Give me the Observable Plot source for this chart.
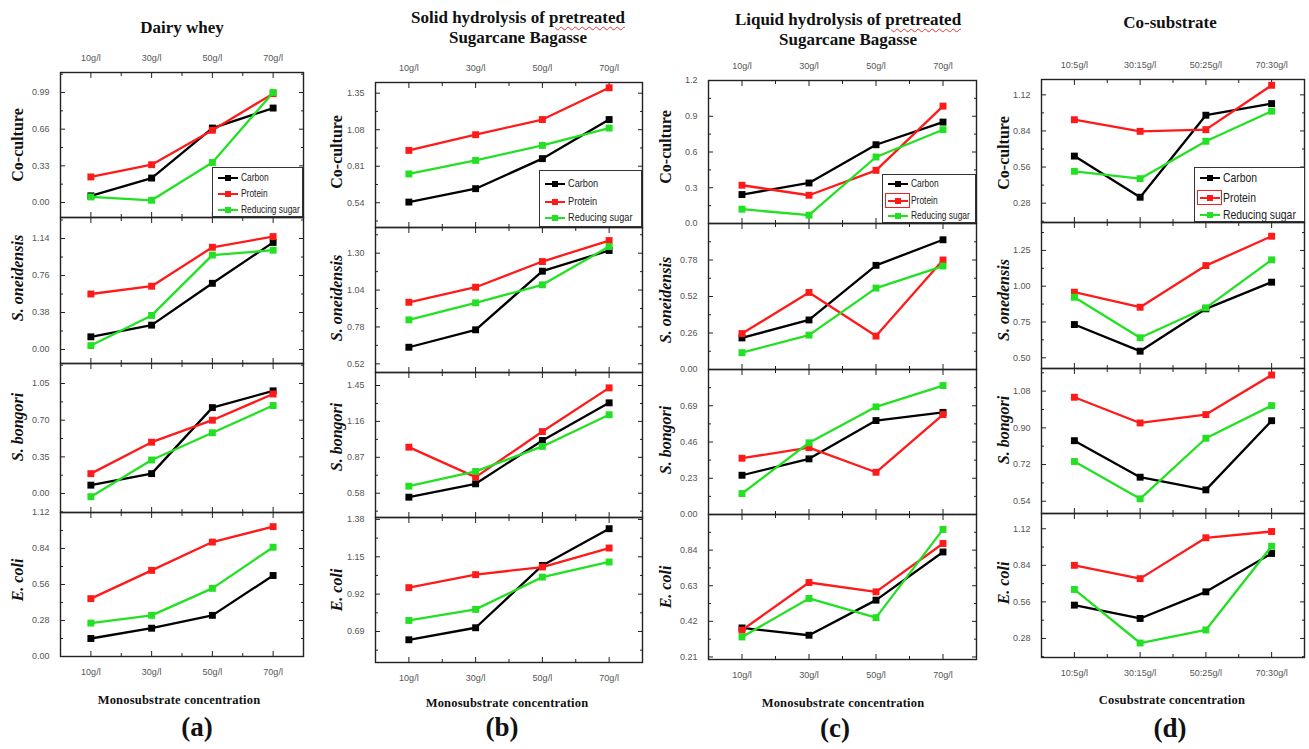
<!DOCTYPE html>
<html><head><meta charset="utf-8">
<script src="https://cdn.jsdelivr.net/npm/d3@7"></script>
<script src="https://cdn.jsdelivr.net/npm/@observablehq/plot@0.6"></script>
<style>
body{margin:0;background:#fff;}
#root{position:relative;width:1309px;height:749px;overflow:hidden;background:#fff;}
.abs{position:absolute;white-space:nowrap;}
.serif{font-family:"Liberation Serif","Times New Roman",serif;font-weight:bold;color:#111;}
.title{font-size:17px;line-height:20px;text-align:center;transform:translate(-50%,-50%);}
.rowlab{font-size:16px;transform:translate(-50%,-50%) rotate(-90deg);}
.axt{font-size:12.5px;transform:translate(-50%,-50%);letter-spacing:0.2px;}
.panlab{font-size:27px;transform:translate(-50%,-50%);}
.legend{background:#fff;border:1.3px solid #333;box-sizing:border-box;}
.legtxt{font-family:"Liberation Sans",Arial,sans-serif;color:#222;transform:translateY(-50%) scaleX(0.8);transform-origin:0 50%;}
.wavy{text-decoration:underline wavy #e33;text-decoration-thickness:1px;text-underline-offset:3px;}
</style></head><body><div id="root"></div>
<script>
// ---------- categories ----------
const monoCats = ["10g/l", "30g/l", "50g/l", "70g/l"];
const coCats = ["10:5g/l", "30:15g/l", "50:25g/l", "70:30g/l"];
const seriesNames = ["Carbon", "Protein", "Reducing sugar"];
const seriesColors = ["#000000", "#ff1a1a", "#22e022"];
const organismsMono = ["Co-culture", "S. oneidensis", "S. bongori", "E. coli"];
const organismsCo = ["Co-culture", "S. onedensis", "S. bongori", "E. coli"];

// ---------- (a) Dairy whey : rows = Co-culture, S. oneidensis, S. bongori, E. coli ----------
const dairyCarbon  = [[0.06, 0.22, 0.67, 0.85], [0.13, 0.25, 0.68, 1.10], [0.08, 0.19, 0.82, 0.98], [0.14, 0.22, 0.32, 0.63]];
const dairyProtein = [[0.23, 0.34, 0.65, 0.98], [0.57, 0.65, 1.05, 1.16], [0.19, 0.49, 0.70, 0.95], [0.45, 0.67, 0.89, 1.01]];
const dairySugar   = [[0.05, 0.02, 0.36, 0.99], [0.04, 0.35, 0.97, 1.02], [-0.03, 0.32, 0.58, 0.84], [0.26, 0.32, 0.53, 0.85]];
const dairyTicks   = [[0, 0.33, 0.66, 0.99], [0, 0.38, 0.76, 1.14], [0, 0.35, 0.70, 1.05], [0, 0.28, 0.56, 0.84, 1.12]];

// ---------- (b) Solid hydrolysis of pretreated sugarcane bagasse ----------
const solidCarbon  = [[0.545, 0.644, 0.866, 1.155], [0.637, 0.76, 1.173, 1.319], [0.548, 0.656, 1.006, 1.31], [0.639, 0.713, 1.097, 1.323]];
const solidProtein = [[0.927, 1.043, 1.155, 1.39], [0.954, 1.06, 1.241, 1.389], [0.952, 0.71, 1.078, 1.431], [0.96, 1.04, 1.087, 1.204]];
const solidSugar   = [[0.753, 0.853, 0.964, 1.092], [0.83, 0.95, 1.077, 1.347], [0.637, 0.756, 0.958, 1.214], [0.758, 0.826, 1.025, 1.118]];
const solidTicks   = [[0.54, 0.81, 1.08, 1.35], [0.52, 0.78, 1.04, 1.30], [0.58, 0.87, 1.16, 1.45], [0.69, 0.92, 1.15, 1.38]];

// ---------- (c) Liquid hydrolysis of pretreated sugarcane bagasse ----------
const liquidCarbon  = [[0.243, 0.34, 0.661, 0.851], [0.225, 0.353, 0.742, 0.924], [0.249, 0.353, 0.596, 0.648], [0.381, 0.338, 0.545, 0.829]];
const liquidProtein = [[0.321, 0.237, 0.446, 0.985], [0.256, 0.549, 0.238, 0.78], [0.357, 0.424, 0.268, 0.634], [0.368, 0.649, 0.594, 0.879]];
const liquidSugar   = [[0.12, 0.07, 0.558, 0.787], [0.12, 0.245, 0.58, 0.737], [0.133, 0.455, 0.683, 0.818], [0.328, 0.555, 0.442, 0.962]];
const liquidTicks   = [[0, 0.3, 0.6, 0.9, 1.2], [0, 0.26, 0.52, 0.78], [0, 0.23, 0.46, 0.69], [0.21, 0.42, 0.63, 0.84]];

// ---------- (d) Co-substrate ----------
const coCarbon  = [[0.645, 0.326, 0.962, 1.052], [0.732, 0.546, 0.842, 1.028], [0.837, 0.658, 0.596, 0.935], [0.535, 0.433, 0.637, 0.931]];
const coProtein = [[0.927, 0.837, 0.85, 1.194], [0.958, 0.853, 1.144, 1.349], [1.05, 0.924, 0.965, 1.159], [0.84, 0.738, 1.051, 1.099]];
const coSugar   = [[0.527, 0.47, 0.76, 0.993], [0.923, 0.64, 0.849, 1.184], [0.735, 0.552, 0.849, 1.009], [0.655, 0.245, 0.345, 0.986]];
const coTicks   = [[0.28, 0.56, 0.84, 1.12], [0.50, 0.75, 1.00, 1.25], [0.54, 0.72, 0.90, 1.08], [0.28, 0.56, 0.84, 1.12]];

// ---------- scale settings (y domains per panel) ----------
const dairyDomains  = [[-0.135, 1.17], [-0.144, 1.356], [-0.181, 1.241], [0, 1.12]];
const solidDomains  = [[0.357, 1.429], [0.459, 1.481], [0.384, 1.555], [0.499, 1.392]];
const liquidDomains = [[0, 1.2], [0, 1.04], [0, 0.92], [0.195, 1.05]];
const coDomains     = [[0.13, 1.239], [0.425, 1.445], [0.48, 1.191], [0.134, 1.237]];

const tickFont = '"Liberation Sans Narrow","Arial Narrow","Liberation Sans",sans-serif';

const columns = [
  {cats: monoCats, orgs: organismsMono, vals: [dairyCarbon, dairyProtein, dairySugar], ticks: dairyTicks, domains: dairyDomains,
   formats: [".2f", ".2f", ".2f", ".2f"], L: 60, R: 303, tops: [72, 217, 363, 512], bottom: 656,
   title: ["Dairy whey"], titleX: 182, titleY: 28, rowX: 18, rowY: [145, 278, 427, 580],
   axisTitle: "Monosubstrate concentration", axX: 179, axY: 700, pan: "(a)", panX: 197, panY: 727,
   legend: {x: 212, y: 167, w: 91, h: 50, ys: [10, 26, 42], fs: 10.5, box: false}},
  {cats: monoCats, orgs: organismsMono, vals: [solidCarbon, solidProtein, solidSugar], ticks: solidTicks, domains: solidDomains,
   formats: [".2f", ".2f", ".2f", ".2f"], L: 375, R: 642, tops: [82, 227, 372, 517], bottom: 662,
   title: ["Solid hydrolysis of <span class='wavy'>pretreated</span>", "Sugarcane Bagasse"], titleX: 518, titleY: 28, rowX: 337, rowY: [152, 298, 437, 590],
   axisTitle: "Monosubstrate concentration", axX: 507, axY: 703, pan: "(b)", panX: 502, panY: 727,
   legend: {x: 539, y: 170, w: 103, h: 57, ys: [13, 31, 47], fs: 11.5, box: false}},
  {cats: monoCats, orgs: organismsMono, vals: [liquidCarbon, liquidProtein, liquidSugar], ticks: liquidTicks, domains: liquidDomains,
   formats: [".1f", ".2f", ".2f", ".2f"], L: 708, R: 976, tops: [80, 223, 369, 514], bottom: 659,
   title: ["Liquid hydrolysis of <span class='wavy'>pretreated</span>", "Sugarcane Bagasse"], titleX: 848, titleY: 30, rowX: 666, rowY: [147, 300, 440, 587],
   axisTitle: "Monosubstrate concentration", axX: 843, axY: 703, pan: "(c)", panX: 835, panY: 728,
   legend: {x: 882, y: 174, w: 94, h: 49, ys: [9, 26, 41], fs: 10.5, box: true}},
  {cats: coCats, orgs: organismsCo, vals: [coCarbon, coProtein, coSugar], ticks: coTicks, domains: coDomains,
   formats: [".2f", ".2f", ".2f", ".2f"], L: 1041, R: 1304, tops: [79, 222, 368, 513], bottom: 657,
   title: ["Co-substrate"], titleX: 1170, titleY: 23, rowX: 1004, rowY: [153, 300, 430, 583],
   axisTitle: "Cosubstrate concentration", axX: 1172, axY: 700, pan: "(d)", panX: 1170, panY: 728,
   legend: {x: 1194, y: 167, w: 111, h: 55, ys: [10, 30, 47], fs: 13, box: true}}
];

const root = document.getElementById("root");
function addDiv(cls, html, x, y) {
  const d = document.createElement("div");
  d.className = "abs " + cls;
  d.style.left = x + "px"; d.style.top = y + "px";
  d.innerHTML = html;
  root.appendChild(d);
  return d;
}

columns.forEach(col => {
  col.tops.forEach((top, r) => {
    const bottom = r < 3 ? col.tops[r + 1] : col.bottom;
    const w = col.R - col.L, h = bottom - top;
    const mL = 50, mR = 12, mT = 26, mB = 26;
    const data = seriesNames.flatMap((s, si) => col.vals[si][r].map((v, i) => ({series: s, x: i, y: v})));
    const ticks = col.ticks[r];
    const step = ticks[1] - ticks[0];
    const [y0, y1] = col.domains[r];
    const minor = d3.range(-8, 12).map(k => ticks[0] + (k + 0.5) * step).filter(v => v > y0 + 1e-6 && v < y1 - 1e-6);
    const fmt = d3.format(col.formats[r]);
    const blank = () => "";
    const cats = col.cats;
    const marks = [
      Plot.axisY(ticks, {anchor: "left", tickSize: 0, tickPadding: 11, tickFormat: fmt, label: null, color: "#555", fontSize: 9}),
      Plot.axisY(ticks, {anchor: "left", tickSize: -5, tickFormat: blank, label: null, stroke: "#222"}),
      Plot.axisY(minor, {anchor: "left", tickSize: -3, tickFormat: blank, label: null, stroke: "#222"}),
      Plot.axisY(ticks, {anchor: "right", tickSize: -5, tickFormat: blank, label: null, stroke: "#222"}),
      Plot.axisY(minor, {anchor: "right", tickSize: -3, tickFormat: blank, label: null, stroke: "#222"}),
      Plot.axisX([0, 1, 2, 3], {anchor: "top", tickSize: -5, tickFormat: blank, label: null, stroke: "#222"}),
      Plot.axisX([0.5, 1.5, 2.5], {anchor: "top", tickSize: -3, tickFormat: blank, label: null, stroke: "#222"}),
      Plot.axisX([0, 1, 2, 3], {anchor: "bottom", tickSize: -5, tickFormat: blank, label: null, stroke: "#222"}),
      Plot.axisX([0.5, 1.5, 2.5], {anchor: "bottom", tickSize: -3, tickFormat: blank, label: null, stroke: "#222"})
    ];
    if (r === 0) marks.push(Plot.axisX([0, 1, 2, 3], {anchor: "top", tickSize: 0, tickPadding: 12, tickFormat: i => cats[i], label: null, color: "#555", fontSize: 9}));
    if (r === 3) marks.push(Plot.axisX([0, 1, 2, 3], {anchor: "bottom", tickSize: 0, tickPadding: 12, tickFormat: i => cats[i], label: null, color: "#555", fontSize: 9}));
    seriesNames.forEach(s => {
      const sub = data.filter(d => d.series === s);
      marks.push(Plot.line(sub, {x: "x", y: "y", stroke: "series", strokeWidth: 2.3}));
      marks.push(Plot.dot(sub, {x: "x", y: "y", fill: "series", symbol: "square", r: 3.9}));
    });
    marks.push(Plot.frame({stroke: "#222", strokeWidth: 1.4}));
    const svg = Plot.plot({
      width: w + mL + mR, height: h + mT + mB,
      marginLeft: mL, marginRight: mR, marginTop: mT, marginBottom: mB,
      x: {domain: [-0.5, 3.5]},
      y: {domain: col.domains[r]},
      color: {domain: seriesNames, range: seriesColors},
      style: {background: "transparent", overflow: "visible", maxWidth: "none", fontFamily: tickFont, fontSize: "9px"},
      marks
    });
    const wrap = document.createElement("div");
    wrap.className = "abs";
    wrap.style.left = (col.L - mL) + "px";
    wrap.style.top = (top - mT) + "px";
    wrap.style.width = (w + mL + mR) + "px";
    wrap.appendChild(svg);
    root.appendChild(wrap);

    const org = col.orgs[r];
    const label = org === "Co-culture" ? org : "<i>" + org + "</i>";
    addDiv("serif rowlab", label, col.rowX, col.rowY[r]);
  });

  addDiv("serif title", col.title.join("<br>"), col.titleX, col.titleY);
  addDiv("serif axt", col.axisTitle, col.axX, col.axY);
  addDiv("serif panlab", col.pan, col.panX, col.panY);

  const lg = col.legend;
  const box = addDiv("legend", "", lg.x, lg.y);
  box.style.width = lg.w + "px"; box.style.height = lg.h + "px";
  seriesNames.forEach((s, i) => {
    const yy = lg.ys[i];
    const sw = document.createElementNS("http://www.w3.org/2000/svg", "svg");
    sw.setAttribute("width", 22); sw.setAttribute("height", 10);
    sw.style.position = "absolute"; sw.style.left = "4px"; sw.style.top = (yy - 5) + "px";
    sw.innerHTML = `<line x1="1" x2="21" y1="5" y2="5" stroke="${seriesColors[i]}" stroke-width="2"/>` +
                   `<rect x="8" y="2" width="6" height="6" fill="${seriesColors[i]}"/>`;
    box.appendChild(sw);
    if (lg.box && i === 1) {
      const rb = document.createElement("div");
      rb.style.cssText = `position:absolute;left:2px;top:${yy - 8}px;width:25px;height:15px;border:1.2px solid #e22;box-sizing:border-box;`;
      box.appendChild(rb);
    }
    const t = document.createElement("div");
    t.className = "abs legtxt";
    t.style.left = "28px"; t.style.top = (yy - 1) + "px"; t.style.fontSize = lg.fs + "px";
    t.textContent = s;
    box.appendChild(t);
  });
});
</script></body></html>
